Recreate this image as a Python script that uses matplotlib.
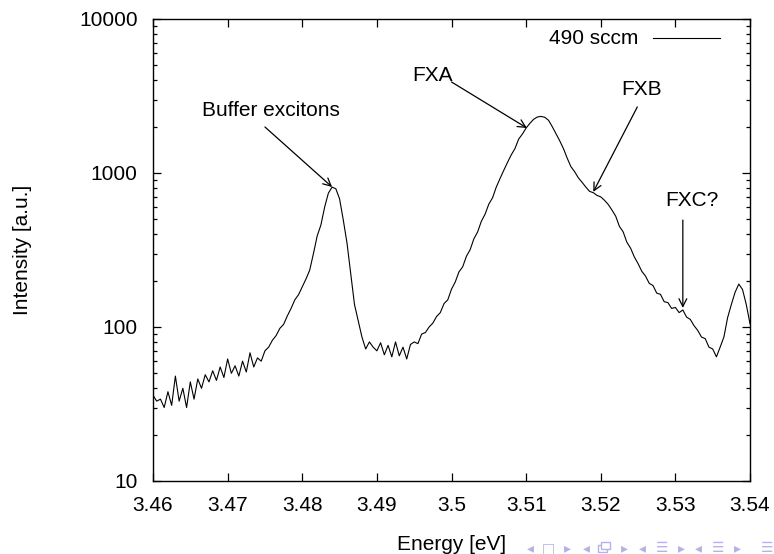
import matplotlib
matplotlib.use('Agg')
import matplotlib.pyplot as plt
from matplotlib.patches import Rectangle

plt.rcParams['font.family'] = ['Liberation Sans', 'DejaVu Sans']
plt.rcParams['font.size'] = 15

# PL spectrum (energy in eV, intensity in a.u.)
energy = [
    3.4600, 3.4605, 3.4610, 3.4615, 3.4620, 3.4625, 3.4630, 3.4635, 3.4640, 3.4645,
    3.4650, 3.4655, 3.4660, 3.4665, 3.4670, 3.4675, 3.4680, 3.4685, 3.4690, 3.4695,
    3.4700, 3.4705, 3.4710, 3.4715, 3.4720, 3.4725, 3.4730, 3.4735, 3.4740, 3.4745,
    3.4750, 3.4755, 3.4760, 3.4765, 3.4770, 3.4775, 3.4780, 3.4785, 3.4790, 3.4795,
    3.4800, 3.4805, 3.4810, 3.4815, 3.4820, 3.4825, 3.4830, 3.4835, 3.4840, 3.4845,
    3.4850, 3.4855, 3.4860, 3.4865, 3.4870, 3.4875, 3.4880, 3.4885, 3.4890, 3.4895,
    3.4900, 3.4905, 3.4910, 3.4915, 3.4920, 3.4925, 3.4930, 3.4935, 3.4940, 3.4945,
    3.4950, 3.4955, 3.4960, 3.4965, 3.4970, 3.4975, 3.4980, 3.4985, 3.4990, 3.4995,
    3.5000, 3.5005, 3.5010, 3.5015, 3.5020, 3.5025, 3.5030, 3.5035, 3.5040, 3.5045,
    3.5050, 3.5055, 3.5060, 3.5065, 3.5070, 3.5075, 3.5080, 3.5085, 3.5090, 3.5095,
    3.5100, 3.5105, 3.5110, 3.5115, 3.5120, 3.5125, 3.5130, 3.5135, 3.5140, 3.5145,
    3.5150, 3.5155, 3.5160, 3.5165, 3.5170, 3.5175, 3.5180, 3.5185, 3.5190, 3.5195,
    3.5200, 3.5205, 3.5210, 3.5215, 3.5220, 3.5225, 3.5230, 3.5235, 3.5240, 3.5245,
    3.5250, 3.5255, 3.5260, 3.5265, 3.5270, 3.5275, 3.5280, 3.5285, 3.5290, 3.5295,
    3.5300, 3.5305, 3.5310, 3.5315, 3.5320, 3.5325, 3.5330, 3.5335, 3.5340, 3.5345,
    3.5350, 3.5355, 3.5360, 3.5365, 3.5370, 3.5375, 3.5380, 3.5385, 3.5390, 3.5395,
    3.5400,
]
intensity = [
    36, 33, 34, 30, 38, 31, 48, 33, 40, 30,
    44, 34, 46, 40, 49, 44, 52, 45, 55, 47,
    62, 50, 56, 48, 60, 51, 68, 55, 63, 60,
    70, 74, 82, 88, 98, 104, 118, 132, 150, 162,
    182, 205, 234, 300, 390, 460, 600, 740, 810, 790,
    680, 495, 350, 220, 140, 110, 86, 72, 80, 74,
    70, 79, 66, 76, 64, 80, 65, 74, 62, 77,
    80, 78, 90, 92, 100, 106, 117, 124, 142, 150,
    176, 196, 228, 246, 288, 318, 374, 414, 486, 540,
    628, 690, 810, 920, 1040, 1170, 1310, 1440, 1660, 1790,
    1960, 2100, 2230, 2310, 2330, 2300, 2200, 2000, 1800, 1620,
    1440, 1250, 1100, 1020, 930, 870, 810, 760, 745, 715,
    700, 665, 625, 575, 525, 450, 415, 355, 325, 285,
    258, 230, 214, 192, 186, 166, 163, 146, 144, 132,
    134, 124, 129, 116, 112, 102, 95, 86, 84, 74,
    72, 64, 74, 86, 115, 140, 168, 190, 175, 140,
    105,
]

# annotations: label, label centre, arrow tail, arrow tip
labels = ['Buffer excitons', 'FXA', 'FXB', 'FXC?']
text_pos = [(3.4758, 2565), (3.4974, 4326), (3.5255, 3510), (3.5322, 658)]
tail_xy = [(3.4750, 1990), (3.5000, 3900), (3.5249, 2685), (3.5310, 495)]
tip_xy = [(3.4840, 811), (3.5101, 1960), (3.5190, 754), (3.5310, 133)]

fig = plt.figure(figsize=(7.74, 5.54), dpi=100)
ax = fig.add_axes([153 / 774, 1 - 481 / 554, 597 / 774, 462 / 554])

ax.plot(energy, intensity, color='black', lw=0.8)
ax.set_yscale('log')
ax.set_xlim(3.46, 3.54)
ax.set_ylim(10, 10000)
ax.set_xticks([3.46, 3.47, 3.48, 3.49, 3.50, 3.51, 3.52, 3.53, 3.54])
ax.set_xticklabels(['3.46', '3.47', '3.48', '3.49', '3.5', '3.51', '3.52', '3.53', '3.54'])
ax.set_yticks([10, 100, 1000, 10000])
ax.set_yticklabels(['10', '100', '1000', '10000'])
ax.tick_params(which='both', direction='in', top=True, right=True, width=0.9)
ax.tick_params(which='major', length=6)
ax.tick_params(axis='x', which='major', pad=11)
ax.tick_params(axis='y', which='major', pad=11)
ax.tick_params(which='minor', length=3)
for s in ax.spines.values():
    s.set_linewidth(1.0)

for lab, tp, t0, t1 in zip(labels, text_pos, tail_xy, tip_xy):
    ax.annotate('', xy=t1, xytext=t0,
                arrowprops=dict(arrowstyle='->', color='black', lw=0.9,
                                shrinkA=0, shrinkB=0, mutation_scale=14))
    ax.text(tp[0], tp[1], lab, ha='center', va='center', fontsize=15)

# key, gnuplot style: title then sample line
ax.text((638 - 153) / 597, 1 - (38 - 19) / 462, '490 sccm', transform=ax.transAxes,
        ha='right', va='center', fontsize=15)
ax.plot([(653 - 153) / 597, (720 - 153) / 597], [1 - (38 - 19) / 462] * 2,
        transform=ax.transAxes, color='black', lw=0.8)

ax.set_xlabel('Energy [eV]', labelpad=14)
ax.set_ylabel('Intensity [a.u.]', labelpad=34)

# beamer navigation symbols
navc = '#b3b3e6'
nav = ['◂', '□', '▸', '◂', '▸', '◂', '☰', '▸', '◂', '☰', '▸', '☰']
nav_x = [530, 548, 567, 586, 624, 642, 662, 681, 698, 718, 737, 767]
for sym, px in zip(nav, nav_x):
    fig.text(px / 774, 1 - 548 / 554, sym, color=navc, fontsize=10,
             ha='center', va='center', family=['DejaVu Sans'])
# double-frame icon (no font has it), drawn as two outlined boxes
for dx, dy in [(0, 0), (3, 3)]:
    fig.add_artist(Rectangle(((598 + dx) / 774, 1 - (552 - dy) / 554), 9 / 774, 7 / 554,
                             transform=fig.transFigure, fill=True, facecolor='white',
                             edgecolor=navc, lw=1.0))

fig.savefig('out.png', dpi=100)
